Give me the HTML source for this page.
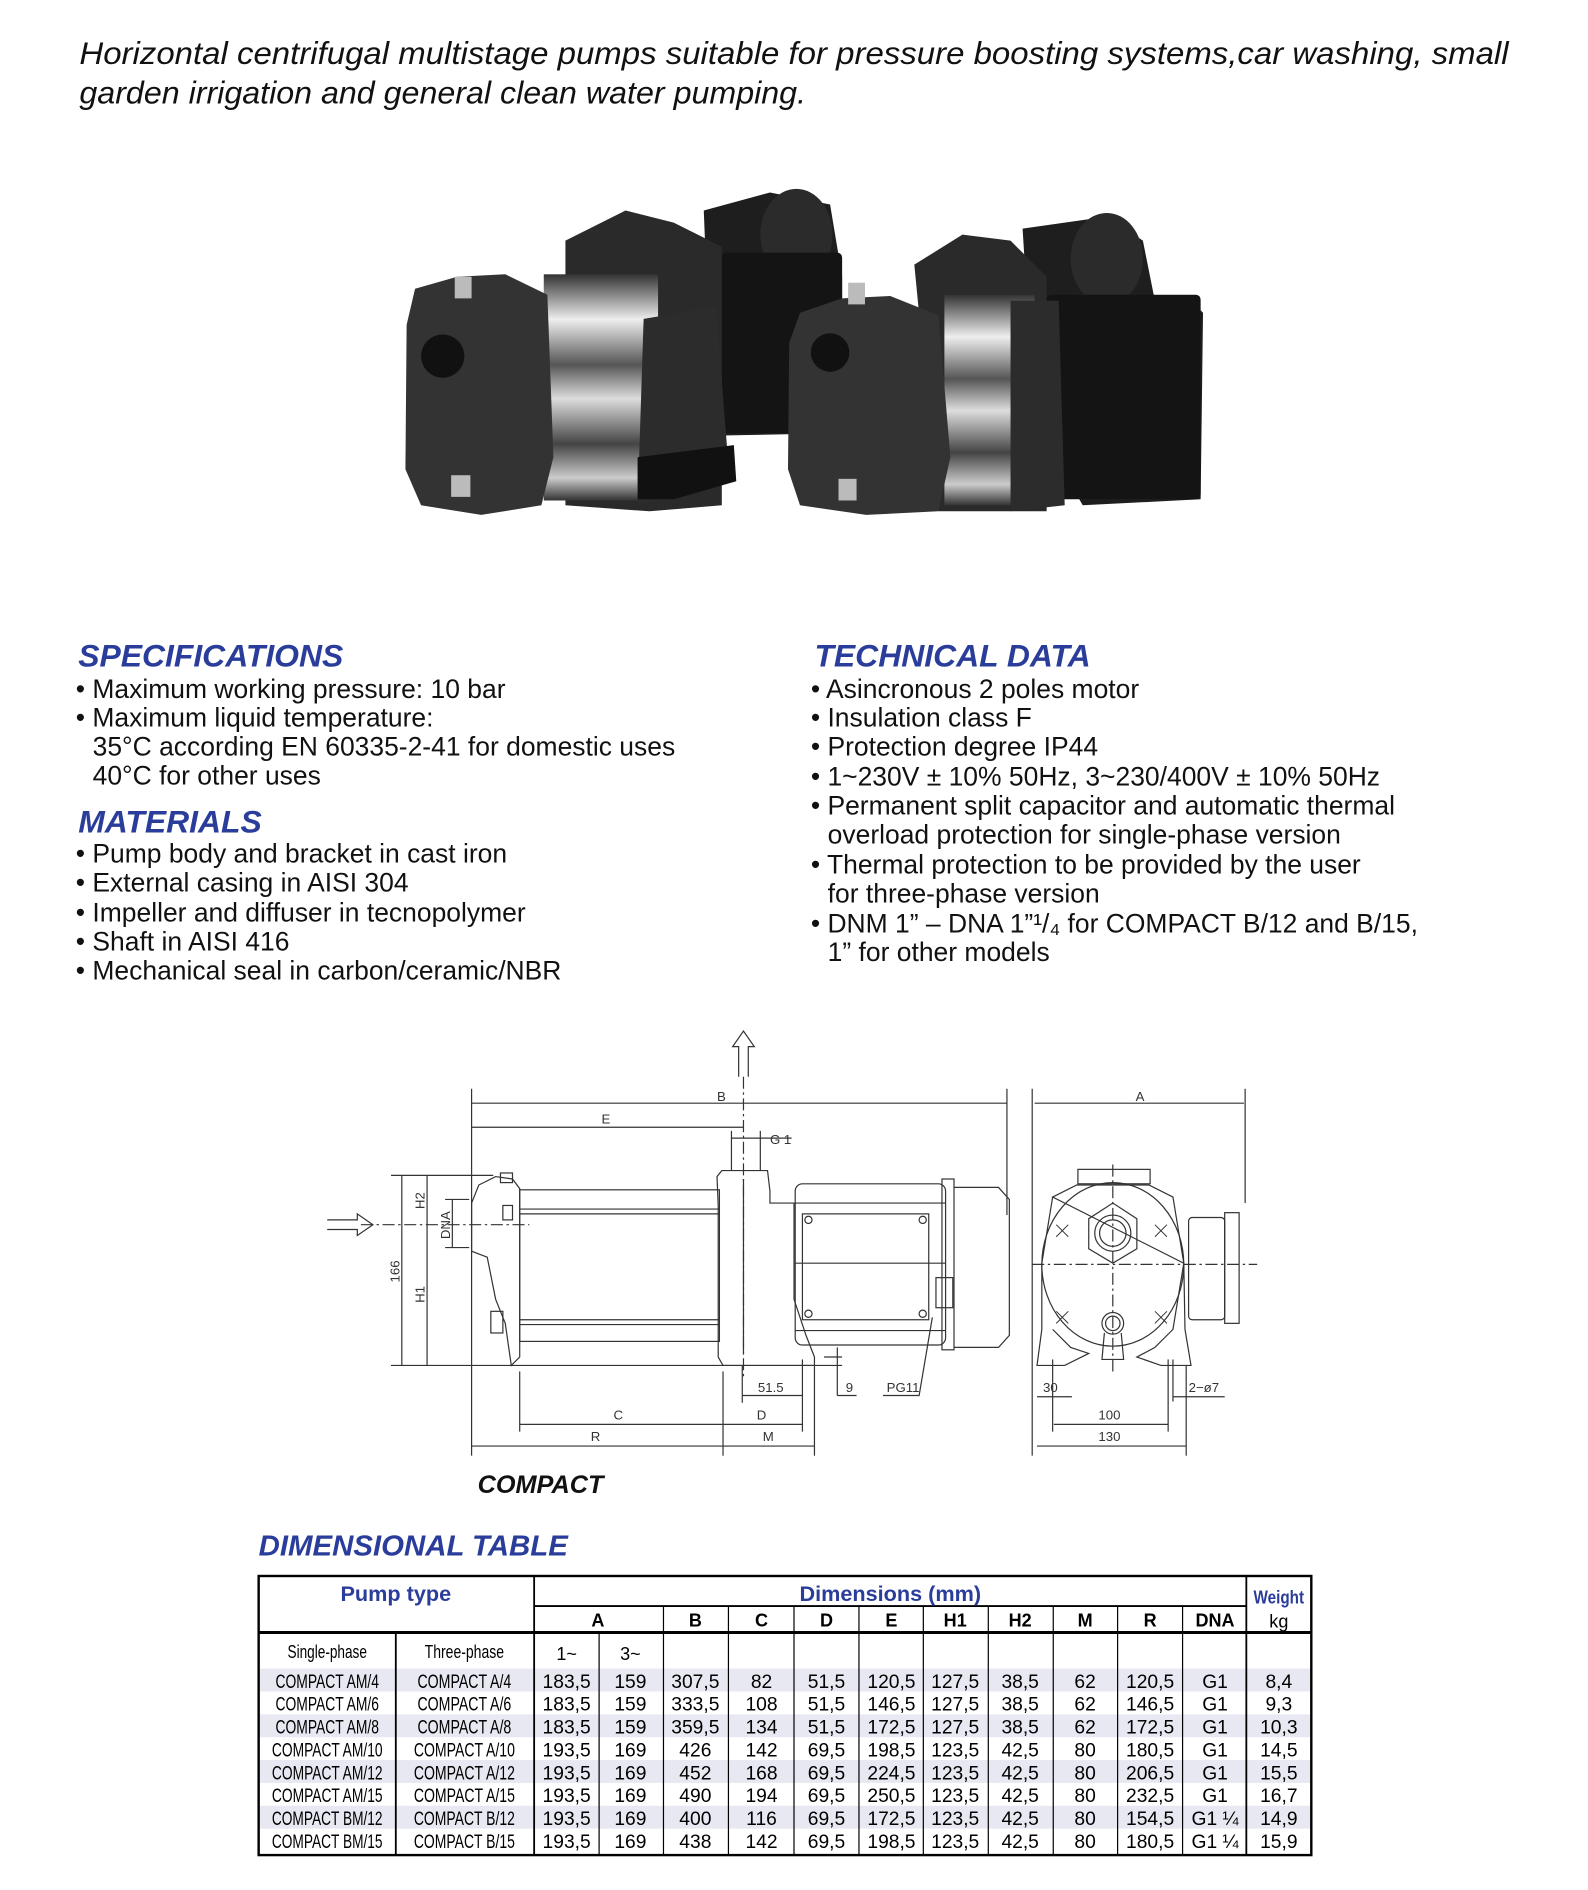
<!DOCTYPE html>
<html><head><meta charset="utf-8"><style>
html,body{margin:0;padding:0;background:#fff;}
svg{display:block;}
.t{font-family:"Liberation Sans",sans-serif;}
</style></head><body>
<svg width="1588" height="1890" viewBox="0 0 1320 1571" xmlns="http://www.w3.org/2000/svg" class="t">
<defs>
<linearGradient id="steel" x1="0" y1="0" x2="0" y2="1">
<stop offset="0" stop-color="#333"/><stop offset="0.2" stop-color="#eee"/><stop offset="0.4" stop-color="#555"/><stop offset="0.55" stop-color="#ddd"/><stop offset="0.75" stop-color="#444"/><stop offset="0.9" stop-color="#ccc"/><stop offset="1" stop-color="#333"/>
</linearGradient>
</defs>
<g font-style="italic" font-size="26.5" fill="#111">
<text x="66" y="53" textLength="1188" lengthAdjust="spacingAndGlyphs">Horizontal centrifugal multistage pumps suitable for pressure boosting systems,car washing, small</text>
<text x="66" y="86" textLength="604" lengthAdjust="spacingAndGlyphs">garden irrigation and general clean water pumping.</text>
</g>
<g>
<path d="M585 175 L640 160 L690 170 L700 230 L700 360 L600 362 L590 300 Z" fill="#1e1e1e"/>
<ellipse cx="662" cy="195" rx="30" ry="38" fill="#2b2b2b"/>
<rect x="600" y="210" width="100" height="150" fill="#141414" rx="4"/>
<path d="M470 200 L520 175 L560 185 L600 205 L600 420 L540 425 L470 420 Z" fill="#2a2a2a"/>
<rect x="452" y="228" width="95" height="188" fill="url(#steel)"/>
<path d="M535 265 L595 255 L605 380 L610 400 L530 420 Z" fill="#2c2c2c"/>
<path d="M530 380 L610 370 L612 400 L560 415 L530 415Z" fill="#111"/>
<path d="M345 240 L380 230 L420 228 L455 245 L460 380 L450 420 L400 428 L350 420 L337 390 L338 270 Z" fill="#333"/>
<circle cx="368" cy="296" r="18" fill="#111"/>
<rect x="378" y="230" width="14" height="18" fill="#bbb"/>
<rect x="375" y="395" width="16" height="18" fill="#bbb"/>
<path d="M850 190 L920 180 L950 200 L960 250 L990 250 L1000 260 L998 415 L900 420 L860 350 Z" fill="#1e1e1e"/>
<ellipse cx="920" cy="215" rx="30" ry="38" fill="#2b2b2b"/>
<rect x="870" y="245" width="128" height="170" fill="#141414" rx="4"/>
<path d="M760 220 L800 195 L840 200 L870 230 L870 425 L780 425 Z" fill="#2a2a2a"/>
<rect x="785" y="245" width="75" height="175" fill="url(#steel)"/>
<path d="M840 250 L880 250 L885 420 L840 425 Z" fill="#2c2c2c"/>
<path d="M665 260 L700 248 L740 246 L780 262 L790 380 L780 425 L720 428 L665 420 L655 390 L656 285 Z" fill="#333"/>
<circle cx="690" cy="293" r="16" fill="#111"/>
<rect x="705" y="235" width="14" height="18" fill="#bbb"/>
<rect x="697" y="398" width="15" height="18" fill="#bbb"/>
</g>
<g font-style="italic" font-weight="bold" font-size="26.5" fill="#2a3d9a">
<text x="65" y="554">SPECIFICATIONS</text>
<text x="65" y="692">MATERIALS</text>
<text x="677" y="554">TECHNICAL DATA</text>
</g>
<g font-size="22" fill="#111">
<text x="63" y="580">• Maximum working pressure: 10 bar</text>
<text x="63" y="604">• Maximum liquid temperature:</text>
<text x="77" y="628">35°C according EN 60335-2-41 for domestic uses</text>
<text x="77" y="652">40°C for other uses</text>
<text x="63" y="717">• Pump body and bracket in cast iron</text>
<text x="63" y="741">• External casing in AISI 304</text>
<text x="63" y="766">• Impeller and diffuser in tecnopolymer</text>
<text x="63" y="790">• Shaft in AISI 416</text>
<text x="63" y="814">• Mechanical seal in carbon/ceramic/NBR</text>
<text x="674" y="580">• Asincronous 2 poles motor</text>
<text x="674" y="604">• Insulation class F</text>
<text x="674" y="628">• Protection degree IP44</text>
<text x="674" y="653">• 1~230V ± 10% 50Hz, 3~230/400V ± 10% 50Hz</text>
<text x="674" y="677">• Permanent split capacitor and automatic thermal</text>
<text x="688" y="701">overload protection for single-phase version</text>
<text x="674" y="726">• Thermal protection to be provided by the user</text>
<text x="688" y="750">for three-phase version</text>
<text x="674" y="775">• DNM 1” – DNA 1”¹/₄ for COMPACT B/12 and B/15,</text>
<text x="688" y="799">1” for other models</text>
</g>
<g stroke="#333" stroke-width="1" fill="none">
<line x1="618" y1="895" x2="618" y2="1145" stroke-dasharray="10,3,2,3"/>
<line x1="300" y1="1018" x2="440" y2="1018" stroke-dasharray="10,3,2,3"/>
<line x1="858" y1="1051" x2="1045" y2="1051" stroke-dasharray="10,3,2,3"/>
<line x1="925" y1="968" x2="925" y2="1142" stroke-dasharray="10,3,2,3"/>
<path d="M614 895 L614 870 L609 870 L618 857 L627 870 L622 870 L622 895"/>
<path d="M272 1014 L297 1014 L297 1009 L310 1018 L297 1027 L297 1022 L272 1022"/>
<path d="M392 1000 L398 985 L412 978 L426 980 L432 988 L432 1128 L425 1135 L420 1100 L412 1080 L405 1045 L392 1040 Z"/>
<rect x="416" y="975" width="10" height="8"/>
<rect x="432" y="989" width="166" height="126"/>
<line x1="432" y1="1005" x2="598" y2="1005"/><line x1="432" y1="1009" x2="598" y2="1009"/>
<line x1="432" y1="1097" x2="598" y2="1097"/><line x1="432" y1="1101" x2="598" y2="1101"/>
<rect x="408" y="1090" width="10" height="18"/><rect x="418" y="1002" width="8" height="12"/>
<path d="M597 1128 L597 1002 L596 978 L600 973 L638 973 L640 990 L640 1000 L660 1000 L660 1080 L670 1110 L677 1128 L677 1135 L601 1135 Z"/>
<line x1="618" y1="980" x2="618" y2="1125"/>
<rect x="661" y="984" width="125" height="134" rx="6"/>
<line x1="661" y1="1000" x2="786" y2="1000"/><line x1="661" y1="1106" x2="786" y2="1106"/>
<line x1="661" y1="1050" x2="786" y2="1050"/>
<rect x="667" y="1009" width="105" height="88"/>
<circle cx="672" cy="1014" r="3"/><circle cx="767" cy="1014" r="3"/><circle cx="672" cy="1092" r="3"/><circle cx="767" cy="1092" r="3"/>
<rect x="783" y="980" width="10" height="142"/>
<path d="M793 987 L830 987 L839 997 L839 1110 L830 1120 L793 1120"/>
<rect x="778" y="1062" width="14" height="25"/>
<rect x="896" y="972" width="60" height="12"/>
<path d="M875 995 L895 985 L955 985 L975 995 L984 1050 L975 1105 L960 1120 L945 1128 L965 1135 L990 1135 L985 1105 L984 1050 Z"/>
<path d="M875 995 L866 1050 L866 1105 L862 1135 L885 1135 L905 1125 L890 1120 L875 1105"/>
<ellipse cx="925" cy="1051" rx="59" ry="68"/>
<path d="M905 1013 L925 1000 L945 1013 L945 1038 L925 1050 L905 1038 Z"/>
<circle cx="925" cy="1025" r="15"/><circle cx="925" cy="1025" r="11"/>
<circle cx="925" cy="1100" r="9"/><circle cx="925" cy="1100" r="6"/>
<path d="M918 1108 L916 1130 L934 1130 L932 1108"/>
<rect x="988" y="1012" width="30" height="85" rx="3"/>
<rect x="1018" y="1008" width="12" height="92"/>
<g stroke-width="0.8"><path d="M878 1018 l10 10 m0 -10 l-10 10 M960 1018 l10 10 m0 -10 l-10 10 M878 1090 l10 10 m0 -10 l-10 10 M960 1090 l10 10 m0 -10 l-10 10"/></g>
<line x1="392" y1="905" x2="392" y2="1210"/>
<line x1="837" y1="905" x2="837" y2="1010"/>
<line x1="392" y1="917" x2="837" y2="917"/>
<line x1="392" y1="937" x2="618" y2="937"/>
<line x1="608" y1="946" x2="658" y2="946"/>
<line x1="608" y1="940" x2="608" y2="973"/><line x1="632" y1="940" x2="632" y2="973"/>
<line x1="325" y1="977" x2="410" y2="977"/>
<line x1="325" y1="1135" x2="700" y2="1135"/>
<line x1="334" y1="977" x2="334" y2="1135"/>
<line x1="355" y1="977" x2="355" y2="1135"/>
<line x1="376" y1="997" x2="376" y2="1037"/>
<line x1="370" y1="997" x2="390" y2="997"/><line x1="370" y1="1037" x2="390" y2="1037"/>
<line x1="432" y1="1140" x2="432" y2="1190"/>
<line x1="601" y1="1140" x2="601" y2="1210"/>
<line x1="667" y1="1130" x2="667" y2="1190"/>
<line x1="677" y1="1135" x2="677" y2="1210"/>
<line x1="617" y1="1135" x2="617" y2="1166"/>
<line x1="617" y1="1160" x2="667" y2="1160"/>
<line x1="432" y1="1184" x2="667" y2="1184"/>
<line x1="392" y1="1202" x2="677" y2="1202"/>
<line x1="696" y1="1120" x2="696" y2="1160"/><line x1="696" y1="1160" x2="712" y2="1160"/>
<line x1="685" y1="1128" x2="700" y2="1128"/>
<path d="M734 1160 L764 1160 L775 1095"/>
<line x1="858" y1="905" x2="858" y2="1210"/>
<line x1="1035" y1="905" x2="1035" y2="1000"/>
<line x1="860" y1="917" x2="1034" y2="917"/>
<line x1="875" y1="1130" x2="875" y2="1190"/>
<line x1="971" y1="1130" x2="971" y2="1190"/>
<line x1="975" y1="1130" x2="975" y2="1165"/>
<line x1="986" y1="1135" x2="986" y2="1210"/>
<line x1="862" y1="1161" x2="891" y2="1161"/>
<line x1="876" y1="1184" x2="971" y2="1184"/>
<line x1="862" y1="1202" x2="986" y2="1202"/>
<line x1="975" y1="1161" x2="1018" y2="1161"/>
</g>
<g font-size="11" fill="#333">
<text x="596" y="915">B</text><text x="500" y="934">E</text>
<text x="640" y="951">G 1</text>
<text x="944" y="915">A</text>
<text x="630" y="1157">51.5</text><text x="703" y="1157">9</text><text x="737" y="1157">PG11</text>
<text x="510" y="1180">C</text><text x="629" y="1180">D</text>
<text x="491" y="1198">R</text><text x="634" y="1198">M</text>
<text x="867" y="1157">30</text><text x="988" y="1157">2−ø7</text>
<text x="913" y="1180">100</text><text x="913" y="1198">130</text>
<text transform="translate(332,1066) rotate(-90)">166</text>
<text transform="translate(353,1083) rotate(-90)">H1</text>
<text transform="translate(353,1005) rotate(-90)">H2</text>
<text transform="translate(374,1030) rotate(-90)">DNA</text>
</g>
<text x="397" y="1241" font-size="21" font-weight="bold" font-style="italic" fill="#111">COMPACT</text>
<text x="215" y="1293" font-size="24" font-weight="bold" font-style="italic" fill="#2a3d9a" textLength="257" lengthAdjust="spacingAndGlyphs">DIMENSIONAL TABLE</text>
<g fill="#e8e8f2">
<rect x="216" y="1387" width="873" height="19"/>
<rect x="216" y="1425" width="873" height="19"/>
<rect x="216" y="1463" width="873" height="19"/>
<rect x="216" y="1501" width="873" height="19"/>
</g>
<g stroke="#000" fill="none">
<rect x="215" y="1310" width="875" height="232" stroke-width="2"/>
<line x1="444" y1="1335" x2="1036" y2="1335" stroke-width="1.5"/>
<line x1="215" y1="1357" x2="1090" y2="1357" stroke-width="2.5"/>
<line x1="444" y1="1310" x2="444" y2="1542" stroke-width="1.5"/>
<line x1="1036" y1="1310" x2="1036" y2="1542" stroke-width="1.5"/>
<line x1="329" y1="1357" x2="329" y2="1542" stroke-width="1.5"/>
<g stroke-width="1">
<line x1="498" y1="1357" x2="498" y2="1542"/>
<line x1="551.5" y1="1335" x2="551.5" y2="1542"/>
<line x1="605.5" y1="1335" x2="605.5" y2="1542"/>
<line x1="660" y1="1335" x2="660" y2="1542"/>
<line x1="714" y1="1335" x2="714" y2="1542"/>
<line x1="767.5" y1="1335" x2="767.5" y2="1542"/>
<line x1="821.5" y1="1335" x2="821.5" y2="1542"/>
<line x1="875.5" y1="1335" x2="875.5" y2="1542"/>
<line x1="929" y1="1335" x2="929" y2="1542"/>
<line x1="983" y1="1335" x2="983" y2="1542"/>
</g>
</g>
<g font-size="18" fill="#2a3d9a" text-anchor="middle" font-weight="bold">
<text x="329" y="1331">Pump type</text>
<text x="740" y="1331">Dimensions (mm)</text>
<text x="1063" y="1333" font-size="15" textLength="42" lengthAdjust="spacingAndGlyphs">Weight</text>
</g>
<g font-size="15" fill="#000" text-anchor="middle" font-weight="bold">
<text x="497" y="1352">A</text><text x="578" y="1352">B</text><text x="633" y="1352">C</text><text x="687" y="1352">D</text><text x="741" y="1352">E</text><text x="794" y="1352">H1</text><text x="848" y="1352">H2</text><text x="902" y="1352">M</text><text x="956" y="1352">R</text><text x="1010" y="1352">DNA</text>
</g>
<text x="1063" y="1353" font-size="15" text-anchor="middle">kg</text>
<g font-size="15" fill="#000" text-anchor="middle">
<text x="272" y="1378" textLength="66" lengthAdjust="spacingAndGlyphs">Single-phase</text>
<text x="386" y="1378" textLength="66" lengthAdjust="spacingAndGlyphs">Three-phase</text>
<text x="471" y="1380">1~</text><text x="524" y="1380">3~</text>
</g>
<g font-size="16" fill="#000" text-anchor="middle">
<g transform="translate(0,1403)">
<text x="272" textLength="86" lengthAdjust="spacingAndGlyphs">COMPACT AM/4</text><text x="386" textLength="78" lengthAdjust="spacingAndGlyphs">COMPACT A/4</text>
<text x="471">183,5</text><text x="524">159</text><text x="578">307,5</text><text x="633">82</text><text x="687">51,5</text><text x="741">120,5</text><text x="794">127,5</text><text x="848">38,5</text><text x="902">62</text><text x="956">120,5</text><text x="1010">G1</text><text x="1063">8,4</text></g>
<g transform="translate(0,1422)">
<text x="272" textLength="86" lengthAdjust="spacingAndGlyphs">COMPACT AM/6</text><text x="386" textLength="78" lengthAdjust="spacingAndGlyphs">COMPACT A/6</text>
<text x="471">183,5</text><text x="524">159</text><text x="578">333,5</text><text x="633">108</text><text x="687">51,5</text><text x="741">146,5</text><text x="794">127,5</text><text x="848">38,5</text><text x="902">62</text><text x="956">146,5</text><text x="1010">G1</text><text x="1063">9,3</text></g>
<g transform="translate(0,1441)">
<text x="272" textLength="86" lengthAdjust="spacingAndGlyphs">COMPACT AM/8</text><text x="386" textLength="78" lengthAdjust="spacingAndGlyphs">COMPACT A/8</text>
<text x="471">183,5</text><text x="524">159</text><text x="578">359,5</text><text x="633">134</text><text x="687">51,5</text><text x="741">172,5</text><text x="794">127,5</text><text x="848">38,5</text><text x="902">62</text><text x="956">172,5</text><text x="1010">G1</text><text x="1063">10,3</text></g>
<g transform="translate(0,1460)">
<text x="272" textLength="92" lengthAdjust="spacingAndGlyphs">COMPACT AM/10</text><text x="386" textLength="84" lengthAdjust="spacingAndGlyphs">COMPACT A/10</text>
<text x="471">193,5</text><text x="524">169</text><text x="578">426</text><text x="633">142</text><text x="687">69,5</text><text x="741">198,5</text><text x="794">123,5</text><text x="848">42,5</text><text x="902">80</text><text x="956">180,5</text><text x="1010">G1</text><text x="1063">14,5</text></g>
<g transform="translate(0,1479)">
<text x="272" textLength="92" lengthAdjust="spacingAndGlyphs">COMPACT AM/12</text><text x="386" textLength="84" lengthAdjust="spacingAndGlyphs">COMPACT A/12</text>
<text x="471">193,5</text><text x="524">169</text><text x="578">452</text><text x="633">168</text><text x="687">69,5</text><text x="741">224,5</text><text x="794">123,5</text><text x="848">42,5</text><text x="902">80</text><text x="956">206,5</text><text x="1010">G1</text><text x="1063">15,5</text></g>
<g transform="translate(0,1498)">
<text x="272" textLength="92" lengthAdjust="spacingAndGlyphs">COMPACT AM/15</text><text x="386" textLength="84" lengthAdjust="spacingAndGlyphs">COMPACT A/15</text>
<text x="471">193,5</text><text x="524">169</text><text x="578">490</text><text x="633">194</text><text x="687">69,5</text><text x="741">250,5</text><text x="794">123,5</text><text x="848">42,5</text><text x="902">80</text><text x="956">232,5</text><text x="1010">G1</text><text x="1063">16,7</text></g>
<g transform="translate(0,1517)">
<text x="272" textLength="92" lengthAdjust="spacingAndGlyphs">COMPACT BM/12</text><text x="386" textLength="84" lengthAdjust="spacingAndGlyphs">COMPACT B/12</text>
<text x="471">193,5</text><text x="524">169</text><text x="578">400</text><text x="633">116</text><text x="687">69,5</text><text x="741">172,5</text><text x="794">123,5</text><text x="848">42,5</text><text x="902">80</text><text x="956">154,5</text><text x="1010">G1 ¼</text><text x="1063">14,9</text></g>
<g transform="translate(0,1536)">
<text x="272" textLength="92" lengthAdjust="spacingAndGlyphs">COMPACT BM/15</text><text x="386" textLength="84" lengthAdjust="spacingAndGlyphs">COMPACT B/15</text>
<text x="471">193,5</text><text x="524">169</text><text x="578">438</text><text x="633">142</text><text x="687">69,5</text><text x="741">198,5</text><text x="794">123,5</text><text x="848">42,5</text><text x="902">80</text><text x="956">180,5</text><text x="1010">G1 ¼</text><text x="1063">15,9</text></g>
</g>
</svg>
</body></html>
